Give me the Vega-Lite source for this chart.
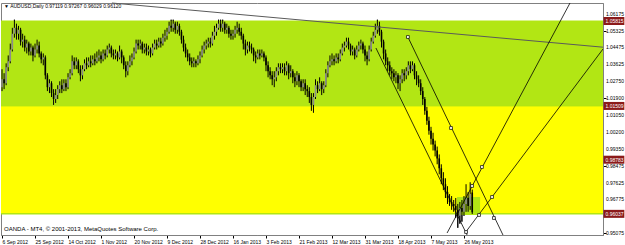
{
"$schema":"https://vega.github.io/schema/vega-lite/v6.json",
"width":602,"height":232,"autosize":{"type":"none"},
"padding":{"left":1,"top":3,"right":22,"bottom":10},
"background":"#ffffff",
"config":{"view":{"stroke":"#808080","strokeWidth":1},"font":"Liberation Sans",
 "axis":{"labelFontSize":5,"labelColor":"#000000","tickColor":"#000000","domainColor":"#808080","grid":false,"tickSize":3,"labelPadding":1}},
"datasets":{
"zones":[
{"zone":"green","x1":-0.5,"x2":291.4,"y1":1.05815,"y2":1.01509},
{"zone":"yellow","x1":-0.5,"x2":291.4,"y1":1.01509,"y2":0.96037},
{"zone":"green","x1":220.6,"x2":231.8,"y1":0.96892,"y2":0.95979}
],
"levels":[
{"lv":"a","p":1.05815,"t":"1.05815"},
{"lv":"a","p":1.01509,"t":"1.01509"},
{"lv":"b","p":0.98783,"t":"0.98783"},
{"lv":"c","p":0.96037,"t":"0.96037"}
],
"yt":[
{"p":1.06175},{"p":1.05325},{"p":1.04475},{"p":1.03625},{"p":1.0275},{"p":1.019},{"p":1.0105},
{"p":1.002},{"p":0.9935},{"p":0.98475},{"p":0.97625},{"p":0.96775},{"p":0.95075}
],
"tl":[
{"id":"L1","i":53.3,"p":1.06728},{"id":"L1","i":291.4,"p":1.04487},
{"id":"LA","i":181.3,"p":1.04446},{"id":"LA","i":225.5,"p":0.94965},
{"id":"LB","i":196.8,"p":1.05004},{"id":"LB","i":242.9,"p":0.94965},
{"id":"LC","i":275.4,"p":1.06728},{"id":"LC","i":215.8,"p":0.95067},
{"id":"LD","i":224.5,"p":0.95067},{"id":"LD","i":291.4,"p":1.04395}
],
"marks":[
{"i":196.8,"p":1.05004},{"i":217.7,"p":1.0039},{"i":238.5,"p":0.95827},{"i":232.7,"p":0.98413},
{"i":227.9,"p":0.9745},{"i":237.6,"p":0.96892},{"i":231.3,"p":0.95979},{"i":225,"p":0.95117}
],
"notes":[
{"k":"t","i":1,"p":1.06576,"t":"▼ AUDUSD,Daily  0.97119 0.97267 0.96029 0.96120"},
{"k":"b","i":1,"p":0.9527,"t":"OANDA - MT4, © 2001-2013, MetaQuotes Software Corp."}
],
"candles":[
{"i":0,"o":1.0246,"h":1.0337,"l":1.0226,"c":1.0286},
{"i":1,"o":1.0286,"h":1.0317,"l":1.0236,"c":1.0266},
{"i":2,"o":1.0266,"h":1.0367,"l":1.0256,"c":1.0347},
{"i":3,"o":1.0347,"h":1.0407,"l":1.0327,"c":1.0377},
{"i":4,"o":1.0377,"h":1.0467,"l":1.0367,"c":1.0437},
{"i":5,"o":1.0437,"h":1.0547,"l":1.0427,"c":1.0517},
{"i":6,"o":1.0517,"h":1.0588,"l":1.0497,"c":1.0547},
{"i":7,"o":1.0547,"h":1.0568,"l":1.0487,"c":1.0517},
{"i":8,"o":1.0517,"h":1.0557,"l":1.0487,"c":1.0537},
{"i":9,"o":1.0537,"h":1.0547,"l":1.0457,"c":1.0477},
{"i":10,"o":1.0477,"h":1.0517,"l":1.0447,"c":1.0487},
{"i":11,"o":1.0487,"h":1.0507,"l":1.0427,"c":1.0447},
{"i":12,"o":1.0447,"h":1.0487,"l":1.0417,"c":1.0467},
{"i":13,"o":1.0467,"h":1.0477,"l":1.0407,"c":1.0427},
{"i":14,"o":1.0427,"h":1.0467,"l":1.0407,"c":1.0447},
{"i":15,"o":1.0447,"h":1.0457,"l":1.0377,"c":1.0407},
{"i":16,"o":1.0407,"h":1.0467,"l":1.0397,"c":1.0437},
{"i":17,"o":1.0437,"h":1.0487,"l":1.0417,"c":1.0457},
{"i":18,"o":1.0457,"h":1.0477,"l":1.0397,"c":1.0417},
{"i":19,"o":1.0417,"h":1.0427,"l":1.0367,"c":1.0387},
{"i":20,"o":1.0387,"h":1.0417,"l":1.0357,"c":1.0397},
{"i":21,"o":1.0397,"h":1.0407,"l":1.0286,"c":1.0306},
{"i":22,"o":1.0306,"h":1.0317,"l":1.0226,"c":1.0246},
{"i":23,"o":1.0246,"h":1.0286,"l":1.0216,"c":1.0266},
{"i":24,"o":1.0266,"h":1.0276,"l":1.0196,"c":1.0216},
{"i":25,"o":1.0216,"h":1.0236,"l":1.0156,"c":1.0186},
{"i":26,"o":1.0186,"h":1.0236,"l":1.0166,"c":1.0206},
{"i":27,"o":1.0206,"h":1.0256,"l":1.0186,"c":1.0236},
{"i":28,"o":1.0236,"h":1.0276,"l":1.0216,"c":1.0256},
{"i":29,"o":1.0256,"h":1.0286,"l":1.0216,"c":1.0236},
{"i":30,"o":1.0236,"h":1.0286,"l":1.0226,"c":1.0266},
{"i":31,"o":1.0266,"h":1.0286,"l":1.0226,"c":1.0246},
{"i":32,"o":1.0246,"h":1.0317,"l":1.0236,"c":1.0296},
{"i":33,"o":1.0296,"h":1.0337,"l":1.0286,"c":1.0317},
{"i":34,"o":1.0317,"h":1.0407,"l":1.0306,"c":1.0377},
{"i":35,"o":1.0377,"h":1.0397,"l":1.0337,"c":1.0357},
{"i":36,"o":1.0357,"h":1.0397,"l":1.0337,"c":1.0377},
{"i":37,"o":1.0377,"h":1.0387,"l":1.0317,"c":1.0337},
{"i":38,"o":1.0337,"h":1.0357,"l":1.0276,"c":1.0306},
{"i":39,"o":1.0306,"h":1.0357,"l":1.0286,"c":1.0337},
{"i":40,"o":1.0337,"h":1.0387,"l":1.0327,"c":1.0367},
{"i":41,"o":1.0367,"h":1.0397,"l":1.0337,"c":1.0357},
{"i":42,"o":1.0357,"h":1.0397,"l":1.0347,"c":1.0377},
{"i":43,"o":1.0377,"h":1.0407,"l":1.0347,"c":1.0367},
{"i":44,"o":1.0367,"h":1.0407,"l":1.0357,"c":1.0387},
{"i":45,"o":1.0387,"h":1.0417,"l":1.0357,"c":1.0377},
{"i":46,"o":1.0377,"h":1.0427,"l":1.0367,"c":1.0397},
{"i":47,"o":1.0397,"h":1.0437,"l":1.0377,"c":1.0407},
{"i":48,"o":1.0407,"h":1.0427,"l":1.0367,"c":1.0387},
{"i":49,"o":1.0387,"h":1.0437,"l":1.0377,"c":1.0417},
{"i":50,"o":1.0417,"h":1.0437,"l":1.0387,"c":1.0407},
{"i":51,"o":1.0407,"h":1.0457,"l":1.0397,"c":1.0437},
{"i":52,"o":1.0437,"h":1.0467,"l":1.0417,"c":1.0447},
{"i":53,"o":1.0447,"h":1.0457,"l":1.0397,"c":1.0417},
{"i":54,"o":1.0417,"h":1.0437,"l":1.0387,"c":1.0407},
{"i":55,"o":1.0407,"h":1.0437,"l":1.0387,"c":1.0417},
{"i":56,"o":1.0417,"h":1.0427,"l":1.0377,"c":1.0397},
{"i":57,"o":1.0397,"h":1.0457,"l":1.0387,"c":1.0427},
{"i":58,"o":1.0427,"h":1.0437,"l":1.0367,"c":1.0397},
{"i":59,"o":1.0397,"h":1.0407,"l":1.0337,"c":1.0357},
{"i":60,"o":1.0357,"h":1.0377,"l":1.0296,"c":1.0327},
{"i":61,"o":1.0327,"h":1.0377,"l":1.0306,"c":1.0357},
{"i":62,"o":1.0357,"h":1.0407,"l":1.0347,"c":1.0377},
{"i":63,"o":1.0377,"h":1.0417,"l":1.0357,"c":1.0397},
{"i":64,"o":1.0397,"h":1.0447,"l":1.0387,"c":1.0427},
{"i":65,"o":1.0427,"h":1.0487,"l":1.0417,"c":1.0467},
{"i":66,"o":1.0467,"h":1.0487,"l":1.0437,"c":1.0457},
{"i":67,"o":1.0457,"h":1.0487,"l":1.0437,"c":1.0467},
{"i":68,"o":1.0467,"h":1.0477,"l":1.0417,"c":1.0437},
{"i":69,"o":1.0437,"h":1.0467,"l":1.0417,"c":1.0447},
{"i":70,"o":1.0447,"h":1.0467,"l":1.0407,"c":1.0427},
{"i":71,"o":1.0427,"h":1.0457,"l":1.0407,"c":1.0437},
{"i":72,"o":1.0437,"h":1.0447,"l":1.0397,"c":1.0417},
{"i":73,"o":1.0417,"h":1.0467,"l":1.0407,"c":1.0447},
{"i":74,"o":1.0447,"h":1.0487,"l":1.0437,"c":1.0467},
{"i":75,"o":1.0467,"h":1.0487,"l":1.0437,"c":1.0457},
{"i":76,"o":1.0457,"h":1.0497,"l":1.0447,"c":1.0477},
{"i":77,"o":1.0477,"h":1.0497,"l":1.0447,"c":1.0467},
{"i":78,"o":1.0467,"h":1.0517,"l":1.0457,"c":1.0497},
{"i":79,"o":1.0497,"h":1.0537,"l":1.0477,"c":1.0507},
{"i":80,"o":1.0507,"h":1.0547,"l":1.0487,"c":1.0527},
{"i":81,"o":1.0527,"h":1.0578,"l":1.0517,"c":1.0557},
{"i":82,"o":1.0557,"h":1.0588,"l":1.0527,"c":1.0547},
{"i":83,"o":1.0547,"h":1.0588,"l":1.0527,"c":1.0568},
{"i":84,"o":1.0568,"h":1.0578,"l":1.0517,"c":1.0537},
{"i":85,"o":1.0537,"h":1.0578,"l":1.0517,"c":1.0557},
{"i":86,"o":1.0557,"h":1.0568,"l":1.0507,"c":1.0527},
{"i":87,"o":1.0527,"h":1.0537,"l":1.0467,"c":1.0487},
{"i":88,"o":1.0487,"h":1.0507,"l":1.0427,"c":1.0447},
{"i":89,"o":1.0447,"h":1.0467,"l":1.0397,"c":1.0417},
{"i":90,"o":1.0417,"h":1.0437,"l":1.0377,"c":1.0397},
{"i":91,"o":1.0397,"h":1.0417,"l":1.0357,"c":1.0377},
{"i":92,"o":1.0377,"h":1.0397,"l":1.0347,"c":1.0367},
{"i":93,"o":1.0367,"h":1.0397,"l":1.0347,"c":1.0377},
{"i":94,"o":1.0377,"h":1.0387,"l":1.0347,"c":1.0367},
{"i":95,"o":1.0367,"h":1.0407,"l":1.0357,"c":1.0387},
{"i":96,"o":1.0387,"h":1.0427,"l":1.0367,"c":1.0407},
{"i":97,"o":1.0407,"h":1.0457,"l":1.0397,"c":1.0437},
{"i":98,"o":1.0437,"h":1.0477,"l":1.0417,"c":1.0457},
{"i":99,"o":1.0457,"h":1.0487,"l":1.0437,"c":1.0467},
{"i":100,"o":1.0467,"h":1.0497,"l":1.0447,"c":1.0477},
{"i":101,"o":1.0477,"h":1.0497,"l":1.0447,"c":1.0467},
{"i":102,"o":1.0467,"h":1.0527,"l":1.0457,"c":1.0507},
{"i":103,"o":1.0507,"h":1.0557,"l":1.0487,"c":1.0527},
{"i":104,"o":1.0527,"h":1.0568,"l":1.0507,"c":1.0547},
{"i":105,"o":1.0547,"h":1.0588,"l":1.0537,"c":1.0568},
{"i":106,"o":1.0568,"h":1.0588,"l":1.0527,"c":1.0547},
{"i":107,"o":1.0547,"h":1.0588,"l":1.0527,"c":1.0568},
{"i":108,"o":1.0568,"h":1.0578,"l":1.0517,"c":1.0537},
{"i":109,"o":1.0537,"h":1.0568,"l":1.0517,"c":1.0547},
{"i":110,"o":1.0547,"h":1.0557,"l":1.0497,"c":1.0517},
{"i":111,"o":1.0517,"h":1.0537,"l":1.0487,"c":1.0507},
{"i":112,"o":1.0507,"h":1.0537,"l":1.0487,"c":1.0517},
{"i":113,"o":1.0517,"h":1.0557,"l":1.0497,"c":1.0537},
{"i":114,"o":1.0537,"h":1.0578,"l":1.0517,"c":1.0547},
{"i":115,"o":1.0547,"h":1.0568,"l":1.0507,"c":1.0527},
{"i":116,"o":1.0527,"h":1.0547,"l":1.0487,"c":1.0507},
{"i":117,"o":1.0507,"h":1.0517,"l":1.0437,"c":1.0467},
{"i":118,"o":1.0467,"h":1.0487,"l":1.0407,"c":1.0437},
{"i":119,"o":1.0437,"h":1.0477,"l":1.0417,"c":1.0457},
{"i":120,"o":1.0457,"h":1.0477,"l":1.0427,"c":1.0447},
{"i":121,"o":1.0447,"h":1.0467,"l":1.0417,"c":1.0437},
{"i":122,"o":1.0437,"h":1.0447,"l":1.0377,"c":1.0407},
{"i":123,"o":1.0407,"h":1.0427,"l":1.0367,"c":1.0397},
{"i":124,"o":1.0397,"h":1.0437,"l":1.0387,"c":1.0417},
{"i":125,"o":1.0417,"h":1.0437,"l":1.0387,"c":1.0407},
{"i":126,"o":1.0407,"h":1.0437,"l":1.0397,"c":1.0417},
{"i":127,"o":1.0417,"h":1.0427,"l":1.0377,"c":1.0397},
{"i":128,"o":1.0397,"h":1.0407,"l":1.0327,"c":1.0357},
{"i":129,"o":1.0357,"h":1.0377,"l":1.0296,"c":1.0327},
{"i":130,"o":1.0327,"h":1.0347,"l":1.0286,"c":1.0306},
{"i":131,"o":1.0306,"h":1.0327,"l":1.0256,"c":1.0286},
{"i":132,"o":1.0286,"h":1.0327,"l":1.0246,"c":1.0296},
{"i":133,"o":1.0296,"h":1.0347,"l":1.0276,"c":1.0327},
{"i":134,"o":1.0327,"h":1.0367,"l":1.0306,"c":1.0347},
{"i":135,"o":1.0347,"h":1.0367,"l":1.0317,"c":1.0337},
{"i":136,"o":1.0337,"h":1.0367,"l":1.0317,"c":1.0347},
{"i":137,"o":1.0347,"h":1.0367,"l":1.0306,"c":1.0327},
{"i":138,"o":1.0327,"h":1.0377,"l":1.0306,"c":1.0357},
{"i":139,"o":1.0357,"h":1.0367,"l":1.0286,"c":1.0317},
{"i":140,"o":1.0317,"h":1.0357,"l":1.0296,"c":1.0327},
{"i":141,"o":1.0327,"h":1.0337,"l":1.0266,"c":1.0296},
{"i":142,"o":1.0296,"h":1.0317,"l":1.0246,"c":1.0276},
{"i":143,"o":1.0276,"h":1.0327,"l":1.0256,"c":1.0306},
{"i":144,"o":1.0306,"h":1.0317,"l":1.0246,"c":1.0276},
{"i":145,"o":1.0276,"h":1.0286,"l":1.0226,"c":1.0246},
{"i":146,"o":1.0246,"h":1.0286,"l":1.0226,"c":1.0266},
{"i":147,"o":1.0266,"h":1.0286,"l":1.0206,"c":1.0236},
{"i":148,"o":1.0236,"h":1.0256,"l":1.0196,"c":1.0226},
{"i":149,"o":1.0226,"h":1.0246,"l":1.0166,"c":1.0196},
{"i":150,"o":1.0196,"h":1.0216,"l":1.0126,"c":1.0156},
{"i":151,"o":1.0156,"h":1.0216,"l":1.0116,"c":1.0196},
{"i":152,"o":1.0196,"h":1.0286,"l":1.0186,"c":1.0256},
{"i":153,"o":1.0256,"h":1.0276,"l":1.0216,"c":1.0236},
{"i":154,"o":1.0236,"h":1.0296,"l":1.0226,"c":1.0266},
{"i":155,"o":1.0266,"h":1.0276,"l":1.0206,"c":1.0236},
{"i":156,"o":1.0236,"h":1.0276,"l":1.0216,"c":1.0256},
{"i":157,"o":1.0256,"h":1.0337,"l":1.0246,"c":1.0317},
{"i":158,"o":1.0317,"h":1.0377,"l":1.0296,"c":1.0357},
{"i":159,"o":1.0357,"h":1.0407,"l":1.0347,"c":1.0377},
{"i":160,"o":1.0377,"h":1.0417,"l":1.0357,"c":1.0387},
{"i":161,"o":1.0387,"h":1.0407,"l":1.0357,"c":1.0377},
{"i":162,"o":1.0377,"h":1.0417,"l":1.0367,"c":1.0397},
{"i":163,"o":1.0397,"h":1.0417,"l":1.0367,"c":1.0387},
{"i":164,"o":1.0387,"h":1.0437,"l":1.0377,"c":1.0417},
{"i":165,"o":1.0417,"h":1.0467,"l":1.0407,"c":1.0447},
{"i":166,"o":1.0447,"h":1.0477,"l":1.0427,"c":1.0457},
{"i":167,"o":1.0457,"h":1.0497,"l":1.0447,"c":1.0477},
{"i":168,"o":1.0477,"h":1.0497,"l":1.0437,"c":1.0457},
{"i":169,"o":1.0457,"h":1.0467,"l":1.0407,"c":1.0427},
{"i":170,"o":1.0427,"h":1.0457,"l":1.0407,"c":1.0437},
{"i":171,"o":1.0437,"h":1.0447,"l":1.0387,"c":1.0407},
{"i":172,"o":1.0407,"h":1.0457,"l":1.0397,"c":1.0437},
{"i":173,"o":1.0437,"h":1.0477,"l":1.0427,"c":1.0457},
{"i":174,"o":1.0457,"h":1.0487,"l":1.0437,"c":1.0467},
{"i":175,"o":1.0467,"h":1.0477,"l":1.0417,"c":1.0437},
{"i":176,"o":1.0437,"h":1.0457,"l":1.0377,"c":1.0407},
{"i":177,"o":1.0407,"h":1.0427,"l":1.0357,"c":1.0387},
{"i":178,"o":1.0387,"h":1.0457,"l":1.0377,"c":1.0437},
{"i":179,"o":1.0437,"h":1.0497,"l":1.0427,"c":1.0477},
{"i":180,"o":1.0477,"h":1.0527,"l":1.0467,"c":1.0507},
{"i":181,"o":1.0507,"h":1.0568,"l":1.0497,"c":1.0537},
{"i":182,"o":1.0537,"h":1.0588,"l":1.0517,"c":1.0557},
{"i":183,"o":1.0557,"h":1.0578,"l":1.0507,"c":1.0527},
{"i":184,"o":1.0527,"h":1.0537,"l":1.0447,"c":1.0477},
{"i":185,"o":1.0477,"h":1.0487,"l":1.0387,"c":1.0417},
{"i":186,"o":1.0417,"h":1.0437,"l":1.0357,"c":1.0377},
{"i":187,"o":1.0377,"h":1.0397,"l":1.0327,"c":1.0357},
{"i":188,"o":1.0357,"h":1.0377,"l":1.0306,"c":1.0327},
{"i":189,"o":1.0327,"h":1.0347,"l":1.0286,"c":1.0317},
{"i":190,"o":1.0317,"h":1.0337,"l":1.0276,"c":1.0296},
{"i":191,"o":1.0296,"h":1.0327,"l":1.0266,"c":1.0306},
{"i":192,"o":1.0306,"h":1.0317,"l":1.0236,"c":1.0266},
{"i":193,"o":1.0266,"h":1.0306,"l":1.0226,"c":1.0286},
{"i":194,"o":1.0286,"h":1.0337,"l":1.0266,"c":1.0317},
{"i":195,"o":1.0317,"h":1.0337,"l":1.0276,"c":1.0306},
{"i":196,"o":1.0306,"h":1.0347,"l":1.0286,"c":1.0327},
{"i":197,"o":1.0327,"h":1.0377,"l":1.0306,"c":1.0357},
{"i":198,"o":1.0357,"h":1.0377,"l":1.0317,"c":1.0337},
{"i":199,"o":1.0337,"h":1.0377,"l":1.0327,"c":1.0357},
{"i":200,"o":1.0357,"h":1.0367,"l":1.0286,"c":1.0306},
{"i":201,"o":1.0306,"h":1.0327,"l":1.0256,"c":1.0286},
{"i":202,"o":1.0286,"h":1.0306,"l":1.0246,"c":1.0266},
{"i":203,"o":1.0266,"h":1.0286,"l":1.0206,"c":1.0226},
{"i":204,"o":1.0226,"h":1.0246,"l":1.0156,"c":1.0186},
{"i":205,"o":1.0186,"h":1.0196,"l":1.0106,"c":1.0126},
{"i":206,"o":1.0126,"h":1.0146,"l":1.0055,"c":1.0076},
{"i":207,"o":1.0076,"h":1.0096,"l":1.0005,"c":1.0025},
{"i":208,"o":1.0025,"h":1.0045,"l":0.9955,"c":0.9985},
{"i":209,"o":0.9985,"h":1.0015,"l":0.9925,"c":0.9955},
{"i":210,"o":0.9955,"h":0.9975,"l":0.9895,"c":0.9925},
{"i":211,"o":0.9925,"h":0.9945,"l":0.9855,"c":0.9885},
{"i":212,"o":0.9885,"h":0.9905,"l":0.9804,"c":0.9835},
{"i":213,"o":0.9835,"h":0.9855,"l":0.9754,"c":0.9784},
{"i":214,"o":0.9784,"h":0.9815,"l":0.9724,"c":0.9754},
{"i":215,"o":0.9754,"h":0.9784,"l":0.9684,"c":0.9714},
{"i":216,"o":0.9714,"h":0.9744,"l":0.9654,"c":0.9684},
{"i":217,"o":0.9684,"h":0.9704,"l":0.9644,"c":0.9664},
{"i":218,"o":0.9664,"h":0.9694,"l":0.9624,"c":0.9654},
{"i":219,"o":0.9654,"h":0.9674,"l":0.9614,"c":0.9644},
{"i":220,"o":0.9644,"h":0.9684,"l":0.9584,"c":0.9624},
{"i":221,"o":0.9624,"h":0.9654,"l":0.9533,"c":0.9594},
{"i":222,"o":0.9594,"h":0.9664,"l":0.9554,"c":0.9634},
{"i":223,"o":0.9634,"h":0.9674,"l":0.9564,"c":0.9614},
{"i":224,"o":0.9614,"h":0.9694,"l":0.9594,"c":0.9654},
{"i":225,"o":0.9654,"h":0.9754,"l":0.9614,"c":0.9684},
{"i":226,"o":0.9684,"h":0.9714,"l":0.9614,"c":0.9644},
{"i":227,"o":0.9644,"h":0.9764,"l":0.9624,"c":0.9704},
{"i":228,"o":0.9712,"h":0.9727,"l":0.9603,"c":0.9612}
]
},
"layer":[
{"data":{"name":"candles"},"mark":{"type":"rule","strokeWidth":1,"color":"#000000"},
 "encoding":{
  "x":{"field":"i","type":"quantitative","scale":{"domain":[-0.5,291.4],"nice":false,"zero":false,"padding":0},
   "axis":{"orient":"bottom","title":null,"values":[0,16,32,48,64,80,96,112,128,144,160,176,192,208,224],
    "labelExpr":"['6 Sep 2012','25 Sep 2012','14 Oct 2012','1 Nov 2012','20 Nov 2012','9 Dec 2012','28 Dec 2012','16 Jan 2013','3 Feb 2013','21 Feb 2013','12 Mar 2013','31 Mar 2013','18 Apr 2013','7 May 2013','26 May 2013'][round(datum.value/16)]",
    "labelAlign":"left","labelOverlap":false,"labelFlush":false,"labelBound":false,"labelFontSize":5,"labelPadding":1,"tickSize":3}},
  "y":{"field":"l","type":"quantitative","scale":{"domain":[0.94965,1.06728],"nice":false,"zero":false,"padding":0},
   "axis":{"orient":"right","title":null,"values":[1.06175,1.05325,1.04475,1.03625,1.0275,1.019,1.0105,1.002,0.9935,0.98475,0.97625,0.96775,0.95925,0.95075],
    "labels":false,"tickSize":3}},
  "y2":{"field":"h"}
 }},
{"data":{"name":"zones"},"mark":{"type":"rect"},
 "encoding":{
  "x":{"field":"x1","type":"quantitative"},
  "x2":{"field":"x2"},
  "y":{"field":"y1","type":"quantitative"},
  "y2":{"field":"y2"},
  "color":{"field":"zone","type":"nominal","scale":{"domain":["green","yellow"],"range":["#b2e614","#ffff00"]},"legend":null}
 }},
{"data":{"name":"levels"},"mark":{"type":"rule"},
 "encoding":{
  "y":{"field":"p","type":"quantitative"},
  "color":{"field":"lv","type":"nominal","scale":{"domain":["a","b","c"],"range":["#a0261a","#d89a00","#e8a8a8"]},"legend":null},
  "strokeWidth":{"field":"lv","type":"nominal","scale":{"domain":["a","b","c"],"range":[1,1.5,1.5]},"legend":null}
 }},
{"data":{"name":"candles"},"mark":{"type":"rule","strokeWidth":1,"color":"#000000"},
 "encoding":{
  "x":{"field":"i","type":"quantitative"},
  "y":{"field":"l","type":"quantitative"},
  "y2":{"field":"h"}
 }},
{"data":{"name":"candles"},"mark":{"type":"bar","size":1.6},
 "encoding":{
  "x":{"field":"i","type":"quantitative"},
  "y":{"field":"o","type":"quantitative"},
  "y2":{"field":"c"},
  "color":{"condition":{"test":"datum.c >= datum.o","value":"#8c8c8c"},"value":"#000000"}
 }},
{"data":{"name":"tl"},"transform":[{"filter":"datum.id == 'L1'"}],"mark":{"type":"line","strokeWidth":1,"color":"#5a5a5a"},
 "encoding":{
  "x":{"field":"i","type":"quantitative"},
  "y":{"field":"p","type":"quantitative"},
  "detail":{"field":"id"}
 }},
{"data":{"name":"tl"},"transform":[{"filter":"datum.id != 'L1'"}],"mark":{"type":"line","strokeWidth":0.8,"color":"#000000","clip":true},
 "encoding":{
  "x":{"field":"i","type":"quantitative"},
  "y":{"field":"p","type":"quantitative"},
  "detail":{"field":"id"}
 }},
{"data":{"name":"marks"},"mark":{"type":"point","shape":"square","size":8,"filled":true,"fill":"#ffffff","stroke":"#000000","strokeWidth":0.7,"opacity":1},
 "encoding":{
  "x":{"field":"i","type":"quantitative"},
  "y":{"field":"p","type":"quantitative"}
 }},
{"data":{"name":"yt"},"mark":{"type":"text","align":"left","baseline":"middle","fontSize":5,"color":"#000000"},
 "encoding":{
  "x":{"datum":292.8,"type":"quantitative"},
  "y":{"field":"p","type":"quantitative"},
  "text":{"field":"p","type":"quantitative","format":".5f"}
 }},
{"data":{"name":"levels"},"mark":{"type":"point","shape":"M-2.6,-1H2.6V1H-2.6Z","size":64,"filled":true,"color":"#8b1a1a","opacity":1},
 "encoding":{
  "x":{"datum":296.7,"type":"quantitative"},
  "y":{"field":"p","type":"quantitative"}
 }},
{"data":{"name":"levels"},"mark":{"type":"text","align":"left","baseline":"middle","fontSize":5,"color":"#ffffff"},
 "encoding":{
  "x":{"datum":292.6,"type":"quantitative"},
  "y":{"field":"p","type":"quantitative"},
  "text":{"field":"t"}
 }},
{"data":{"name":"notes"},"mark":{"type":"text","align":"left","baseline":"middle","color":"#000000"},
 "encoding":{
  "x":{"field":"i","type":"quantitative"},
  "y":{"field":"p","type":"quantitative"},
  "text":{"field":"t"},
  "size":{"field":"k","type":"nominal","scale":{"domain":["t","b"],"range":[5,6]},"legend":null}
 }}
]
}
